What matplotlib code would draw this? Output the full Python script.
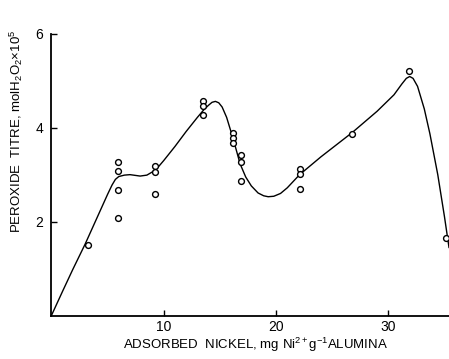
import matplotlib
matplotlib.use("Agg")
import matplotlib.pyplot as plt

# Measured data points (x: mg Ni2+ g^-1 alumina, y: peroxide titre x1e5)
pts_x = [3.3, 5.9, 5.9, 5.9, 5.9, 9.2, 9.2, 9.2, 13.5, 13.5, 13.5,
         16.2, 16.2, 16.2, 16.9, 16.9, 16.9, 22.1, 22.1, 22.1, 26.8, 31.8, 35.1]
pts_y = [1.50, 3.28, 3.07, 2.67, 2.08, 3.19, 3.06, 2.58, 4.57, 4.46, 4.26,
         3.88, 3.79, 3.67, 3.42, 3.26, 2.86, 3.13, 3.02, 2.69, 3.86, 5.20, 1.65]

# Hand-drawn fitted curve
curve_x = [0, 1.0, 1.9, 3.0, 4.0, 5.0, 5.4, 5.7, 6.0, 6.5, 7.0, 7.9, 8.5, 9.0, 9.5, 10.0, 11.0,
           12.0, 13.0, 13.6, 14.0, 14.3, 14.6, 14.9, 15.2, 15.6, 16.2, 16.8, 17.3,
           17.8, 18.4, 18.9, 19.3, 19.8, 20.4, 21.0, 22.1, 24.0, 26.8, 29.0, 30.5, 31.2,
           31.6, 31.9, 32.2, 32.6, 33.2, 33.7, 34.4, 35.0, 35.4]
curve_y = [0, 0.52, 0.98, 1.52, 2.05, 2.58, 2.78, 2.90, 2.96, 2.99, 3.00, 2.97, 2.99, 3.06, 3.16, 3.30, 3.60,
           3.92, 4.22, 4.39, 4.48, 4.54, 4.56, 4.53, 4.44, 4.22, 3.75, 3.23, 2.95,
           2.76, 2.61, 2.55, 2.53, 2.54, 2.60, 2.72, 3.00, 3.38, 3.90, 4.35, 4.70, 4.93,
           5.05, 5.09, 5.05, 4.88, 4.40, 3.87, 3.00, 2.10, 1.45]

xticks = [10, 20, 30]
yticks = [2, 4, 6]

fam = "Liberation Sans"
plt.rcParams['font.family'] = [fam, 'DejaVu Sans']
plt.rcParams['mathtext.fontset'] = 'custom'
plt.rcParams['mathtext.rm'] = fam
plt.rcParams['mathtext.it'] = fam

fig = plt.figure(figsize=(4.49, 3.59), dpi=100)
ax = fig.add_axes([0.1145, 0.121, 0.8855, 0.785])

ax.plot(curve_x, curve_y, color='black', lw=1.0)
ax.plot(pts_x, pts_y, linestyle='none', marker='o', markersize=4.2,
        markerfacecolor='white', markeredgecolor='black', markeredgewidth=1.0,
        clip_on=False, zorder=3)

ax.set_xlim(0, 35.4)
ax.set_ylim(0, 6)
ax.set_xticks(xticks)
ax.set_yticks(yticks)
ax.set_xticklabels([str(t) for t in xticks])
ax.set_yticklabels([str(t) for t in yticks])
for s in ['top', 'right']:
    ax.spines[s].set_visible(False)
for s in ['left', 'bottom']:
    ax.spines[s].set_linewidth(1.3)
ax.tick_params(direction='in', length=4, width=1.0, labelsize=10, pad=3)
ax.tick_params(axis='y', pad=6)

fig.text(0.568, 0.038, r"ADSORBED  NICKEL, mg Ni$^{2+}$g$^{-1}$ALUMINA",
         fontsize=9.5, ha='center', va='center')
fig.text(0.036, 0.635, r"PEROXIDE  TITRE, molH$_2$O$_2$×10$^5$",
         fontsize=9.5, ha='center', va='center', rotation=90)

fig.savefig("out.png", dpi=100)
